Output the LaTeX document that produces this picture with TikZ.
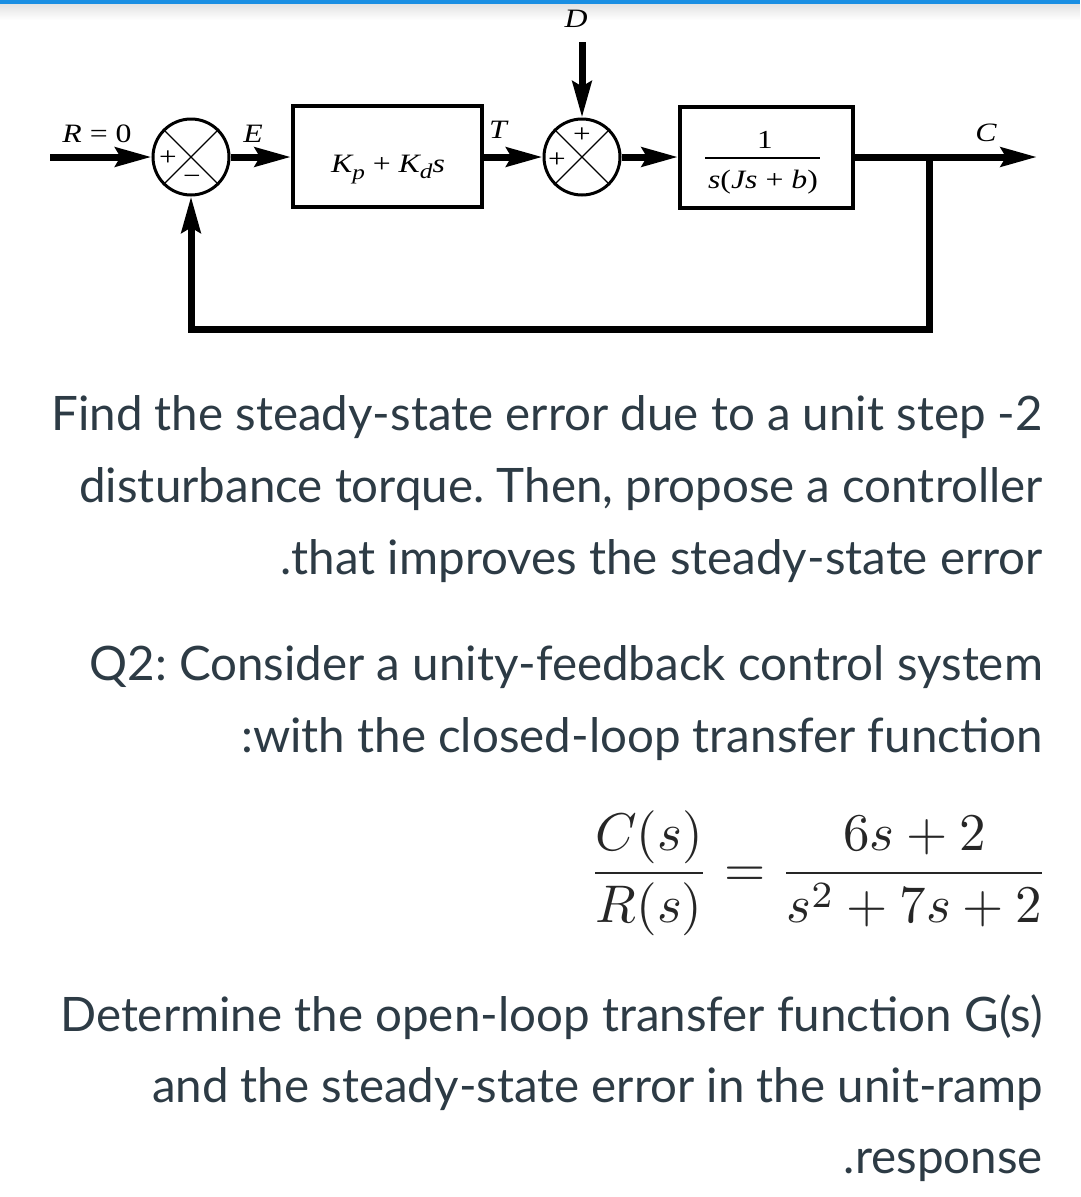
\documentclass[tikz,border=0pt]{standalone}
\usepackage[no-math]{fontspec}
\newfontfamily\lato{Lato}
\newfontfamily\tms[FakeStretch=1.2]{Liberation Serif}
\usetikzlibrary{arrows.meta}
\definecolor{txt}{HTML}{2D3B45}
\definecolor{barblue}{HTML}{1A8FE3}
\frenchspacing
\tikzset{
  sumnode/.style={circle, draw, line width=3pt, minimum size=76pt, inner sep=0pt},
  block/.style={rectangle, draw, line width=4pt, inner sep=0pt},
  sig/.style={line width=7pt, -{Stealth[length=36pt,width=19pt,inset=5pt]}},
  cross/.style={line width=1.3pt},
  lbl/.style={font=\tms\fontsize{26.5}{30}\selectfont\itshape, inner sep=0pt, anchor=base},
  sgn/.style={font=\tms\fontsize{26}{28}\selectfont, inner sep=0pt},
  para/.style={font=\lato\fontsize{47.5}{56}\selectfont, text=txt, anchor=base east, inner sep=0pt}
}
\begin{document}
\begin{tikzpicture}[x=1pt,y=-1pt]
\useasboundingbox (0,0) rectangle (1080,1197);
\fill[white] (0,0) rectangle (1080,1197);
\shade[top color=gray!22,bottom color=white] (0,4) rectangle (1080,20);
\fill[barblue] (0,0) rectangle (1080,4);

% block diagram
\node[sumnode] (s1) at (191,157) {};
\node[sumnode] (s2) at (582,157) {};
\node[block, minimum width=189pt, minimum height=101pt] (b1) at (387.5,156) {};
\node[block, minimum width=173pt, minimum height=101pt] (b2) at (766.5,157.5) {};

\draw[cross] (s1.north west) -- (s1.south east);
\draw[cross] (s1.north east) -- (s1.south west);
\draw[cross] (s2.north west) -- (s2.south east);
\draw[cross] (s2.north east) -- (s2.south west);
\node[sgn] (s1p) at (168,158) {+};
\node[sgn] (s1m) at (192,180) {\char"2212};
\node[sgn] (s2t) at (582,135) {+};
\node[sgn] (s2l) at (557,160) {+};

\node[lbl, anchor=base] (kk) at (388,172) {K\raisebox{-0.3em}{\fontsize{21}{22}\selectfont p}\upshape\ + \itshape K\raisebox{-0.25em}{\fontsize{21}{22}\selectfont d}s};
\node[lbl, font=\tms\fontsize{26}{30}\selectfont] (one) at (765,148) {1};
\node[lbl] (den) at (763,188) {s\upshape(\itshape Js\upshape\ + \itshape b\upshape)};
\draw[line width=1.6pt] (705,158) -- (820,158);

\node[lbl] (lR) at (97,142) {R \upshape= 0};
\node[lbl] (lE) at (253,142) {E};
\node[lbl] (lT) at (498,138) {T};
\node[lbl] (lD) at (576,27) {D};
\node[lbl] (lC) at (986,141) {C};

\coordinate (in) at (50,157);
\coordinate (din) at (582,42);
\coordinate (out) at (1037,157);
\coordinate (br) at (929,157);
\coordinate (fbR) at (929,329);
\coordinate (fbL) at (191,329);

\draw[sig] (in) -- (s1.west);
\draw[sig] (s1.east) -- (s1.east -| b1.west);
\draw[sig] (b1.east |- s2.west) -- (s2.west);
\draw[sig] (din) -- (s2.north);
\draw[sig] (s2.east) -- (s2.east -| b2.west);
\draw[sig] (b2.east |- out) -- (out);
\draw[sig] (br) -- (fbR) -- (fbL) -- (s1.south);

% text
\node[para] (t1) at (1043,430) {Find the steady-state error due to a unit step -2};
\node[para] (t2) at (1043,502) {disturbance torque. Then, propose a controller};
\node[para] (t3) at (1043,574) {.that improves the steady-state error};
\node[para] (t4) at (1043,680) {Q2: Consider a unity-feedback control system};
\node[para] (t5) at (1043,752) {:with the closed-loop transfer function};
\node[anchor=base east, inner sep=0pt, text=black!85] (eq) at (1049,886)
  {\scalebox{5.3}{$\displaystyle\frac{C(s)}{R(s)}=\frac{6s+2}{s^2+7s+2}$}};
\node[para] (t6) at (1043,1031) {Determine the open-loop transfer function G(s)};
\node[para] (t7) at (1043,1102) {and the steady-state error in the unit-ramp};
\node[para] (t8) at (1043,1173) {.response};
\end{tikzpicture}
\end{document}
